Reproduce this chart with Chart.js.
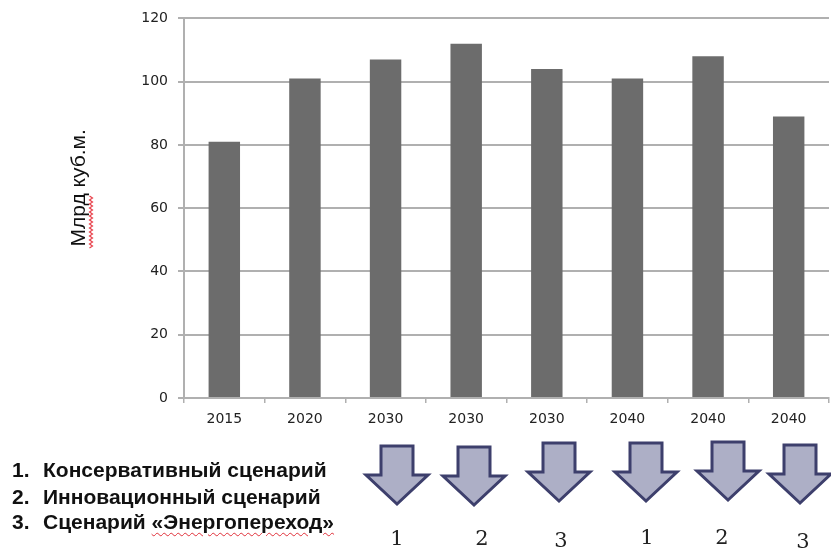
<!DOCTYPE html>
<html>
<head>
<meta charset="utf-8">
<script src="https://cdn.jsdelivr.net/npm/chart.js@4/dist/chart.umd.min.js"></script>
<style>
  html, body { margin: 0; padding: 0; background: #fff; }
  #wrap { position: relative; width: 831px; height: 550px; overflow: hidden; }
  #c { position: absolute; left: 0; top: 0; }
  .leg { position: absolute; left: 12px; font-family: "Liberation Sans", Arial, sans-serif; font-size: 21px; color: #111; white-space: nowrap; line-height: 24px; font-weight: bold; }
  .leg .n { display: inline-block; width: 31px; }
  .wavy { text-decoration: underline wavy #e0303a; text-decoration-thickness: 1px; text-underline-offset: 3px; }
  .num { position: absolute; font-family: "DejaVu Serif", "Liberation Serif", serif; font-size: 21px; color: #222; transform: translate(-50%, -50%); }
  svg { position: absolute; left: 0; top: 0; }
</style>
</head>
<body>
<div id="wrap">
  <canvas id="c" width="831" height="550"></canvas>
  <svg width="831" height="550" id="arrows"></svg>
  <div class="leg" style="top:458px"><span class="n">1.</span>Консервативный сценарий</div>
  <div class="leg" style="top:485px"><span class="n">2.</span>Инновационный сценарий</div>
  <div class="leg" style="top:510px"><span class="n">3.</span>Сценарий <span class="wavy">«Энергопереход»</span></div>
</div>
<script>
// ---- data ----
const categories = ["2015", "2020", "2030", "2030", "2030", "2040", "2040", "2040"];
const values = [81, 101, 107, 112, 104, 101, 108, 89];
const yTicks = [0, 20, 40, 60, 80, 100, 120];
const scenarioNumbers = ["1", "2", "3", "1", "2", "3"];
const yTitle = "Млрд куб.м.";

// ---- decorations (arrows under chart) ----
const arrowCenters = [397, 474, 559, 646, 728, 800];
const arrowTops = [446, 447, 443, 443, 442, 445];
const numberX = [397, 482, 561, 647, 722, 803];
const numberY = [538, 538, 540, 537, 537, 541];

const svg = document.getElementById('arrows');
arrowCenters.forEach((cx, i) => {
  const t = arrowTops[i];
  const sw = 16, hw = 31, sh = 29, tip = 58;
  const pts = [
    [cx - sw, t], [cx + sw, t], [cx + sw, t + sh], [cx + hw, t + sh],
    [cx, t + tip], [cx - hw, t + sh], [cx - sw, t + sh]
  ].map(p => p.join(',')).join(' ');
  const poly = document.createElementNS('http://www.w3.org/2000/svg', 'polygon');
  poly.setAttribute('points', pts);
  poly.setAttribute('fill', '#adafc6');
  poly.setAttribute('stroke', '#3d3f6c');
  poly.setAttribute('stroke-width', '3');
  poly.setAttribute('stroke-linejoin', 'miter');
  svg.appendChild(poly);
});
const wrap = document.getElementById('wrap');
scenarioNumbers.forEach((s, i) => {
  const d = document.createElement('div');
  d.className = 'num';
  d.textContent = s;
  d.style.left = numberX[i] + 'px';
  d.style.top = numberY[i] + 'px';
  wrap.appendChild(d);
});

// wavy red underline next to "Млрд" in the rotated axis title
const wavyPlugin = {
  id: 'wavy',
  afterDraw(chart) {
    const ctx = chart.ctx;
    ctx.save();
    ctx.strokeStyle = '#e8404a';
    ctx.lineWidth = 1.2;
    ctx.beginPath();
    const x = 91, y0 = 196, y1 = 248;
    let k = 0;
    for (let y = y0; y <= y1; y += 2) {
      const xx = x + (k % 2 === 0 ? -1.5 : 1.5);
      if (y === y0) ctx.moveTo(xx, y); else ctx.lineTo(xx, y);
      k++;
    }
    ctx.stroke();
    ctx.restore();
  }
};

const tickFont = { family: "DejaVu Sans", size: 14 };
const gridColor = '#b0b0b0';

new Chart(document.getElementById('c'), {
  type: 'bar',
  data: {
    labels: categories,
    datasets: [{
      data: values,
      backgroundColor: '#6c6c6c',
      borderWidth: 0,
      categoryPercentage: 1,
      barPercentage: 0.39
    }]
  },
  options: {
    responsive: false,
    animation: false,
    events: [],
    layout: { padding: { top: 17, right: 2, bottom: 112, left: 0 } },
    plugins: { legend: { display: false }, tooltip: { enabled: false } },
    scales: {
      x: {
        afterFit(s) { s.height = 40; },
        grid: { display: true, drawOnChartArea: false, offset: true, tickLength: 5, color: gridColor, lineWidth: 1.5 },
        border: { display: true, color: gridColor, width: 2 },
        ticks: { font: tickFont, color: '#222', padding: 8, maxRotation: 0 }
      },
      y: {
        min: 0,
        max: 120,
        afterFit(s) { s.width = 184; },
        afterBuildTicks(s) { s.ticks = yTicks.map(v => ({ value: v })); },
        grid: { color: gridColor, lineWidth: 2, tickLength: 6 },
        border: { display: true, color: gridColor, width: 2 },
        ticks: { font: tickFont, color: '#222', padding: 10 },
        title: {
          display: true,
          text: '\u00a0\u00a0\u00a0\u00a0\u00a0\u00a0\u00a0' + yTitle,
          font: { family: "Liberation Sans", size: 21 },
          color: '#111',
          padding: { top: 67, bottom: 0 }
        }
      }
    }
  },
  plugins: [wavyPlugin]
});
</script>
</body>
</html>
